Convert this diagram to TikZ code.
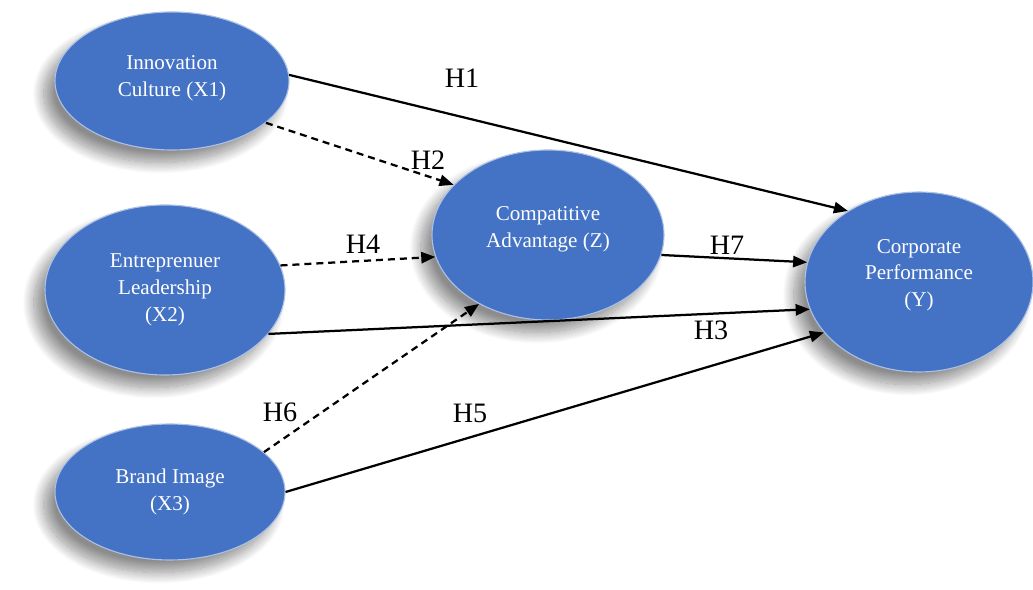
\documentclass[tikz,border=0pt]{standalone}
\usepackage{fontspec}
\setmainfont{Liberation Serif}
\usetikzlibrary{shapes.geometric,arrows.meta,shadows.blur}
\definecolor{ovalblue}{RGB}{68,114,196}
\begin{document}
\begin{tikzpicture}[
    construct/.style={ellipse, fill=ovalblue, draw=ovalblue!45!white, line width=0.8pt,
        text=white, align=center, font=\fontsize{15}{19}\selectfont,
        blur shadow={shadow xshift=-8pt, shadow yshift=-9pt, shadow blur radius=8pt,
            shadow blur steps=20, shadow opacity=45}},
    path/.style={-{Triangle[length=10pt,width=8pt]}, line width=1.6pt},
    dashpath/.style={path, dash pattern=on 5pt off 3.5pt},
    hyp/.style={font=\fontsize{20}{24}\selectfont}
]
    \useasboundingbox (0,0) rectangle (25.825,14.75);
    \node[construct, minimum width=5.85cm, minimum height=3.45cm] (x1) at (4.3,12.725) {Innovation\\Culture (X1)\\[-12pt]};
    \node[construct, minimum width=6.0cm, minimum height=4.25cm] (x2) at (4.125,7.5) {Entreprenuer\\Leadership\\(X2)};
    \node[construct, minimum width=5.75cm, minimum height=3.4cm] (x3) at (4.25,2.45) {Brand Image\\(X3)};
    \node[construct, minimum width=5.8cm, minimum height=4.25cm] (z) at (13.7,8.875) {Compatitive\\Advantage (Z)\\[-8pt]};
    \node[construct, minimum width=5.7cm, minimum height=4.5cm] (y) at (22.975,7.7) {Corporate\\Performance\\(Y)\\[-6pt]};
    \draw[path] (x1.3) -- (y.135);
    \draw[dashpath] (x1.-24) -- (z.152);
    \draw[dashpath] (x2.12) -- (z.191);
    \draw[path] (z.-10) -- (y.170);
    \draw[path] (x2.-23) -- (y.194);
    \draw[dashpath] (x3.23) -- (z.225);
    \draw[path] (x3.0) -- (y.208);
    \node[hyp] (h1) at (11.55,12.8) {H1};
    \node[hyp] (h2) at (10.7,10.75) {H2};
    \node[hyp] (h4) at (9.075,8.65) {H4};
    \node[hyp] (h7) at (18.175,8.625) {H7};
    \node[hyp] (h3) at (17.775,6.5) {H3};
    \node[hyp] (h6) at (7.0,4.45) {H6};
    \node[hyp] (h5) at (11.75,4.425) {H5};
\end{tikzpicture}
\end{document}
